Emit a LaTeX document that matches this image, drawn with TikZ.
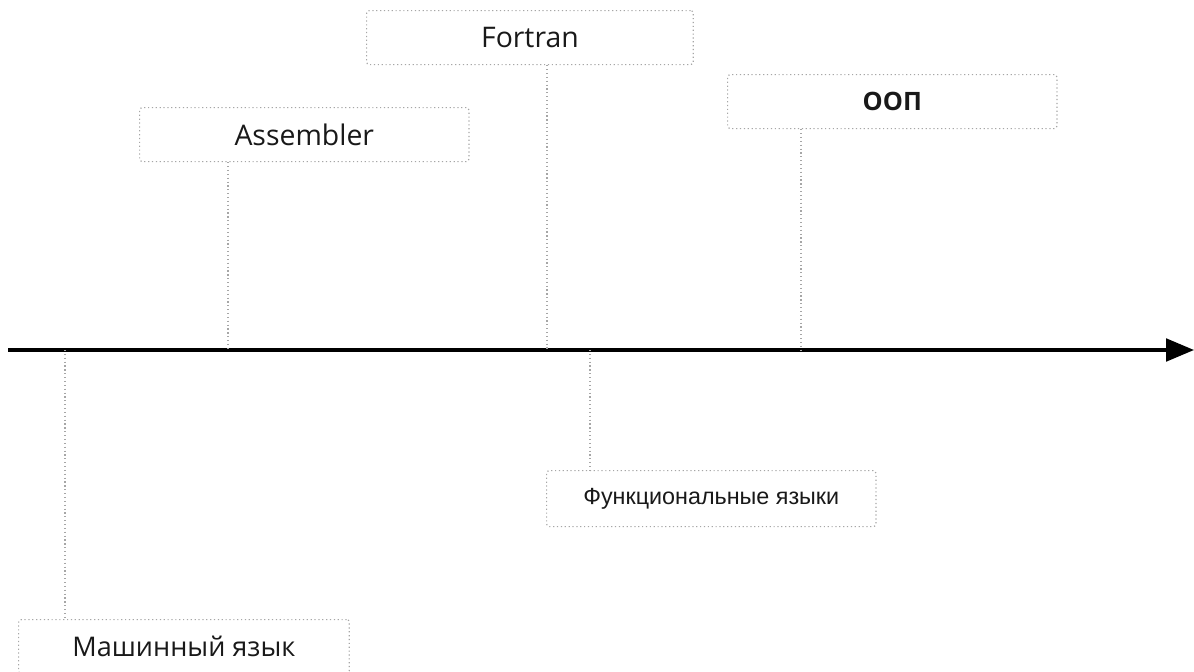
\documentclass[tikz,border=0pt]{standalone}
\usepackage{fontspec}
\setmainfont{Open Sans}
\newfontfamily\arialf{Liberation Sans}
\usetikzlibrary{arrows.meta}
\begin{document}
\begin{tikzpicture}[x=0.75pt,y=-0.75pt,
  era/.style={draw=black!35, dotted, line width=0.9pt, rounded corners=2pt, minimum height=40.5pt, inner sep=0pt, anchor=north west, text=black!90},
  big/.style={font=\fontsize{21.3}{25}\selectfont},
  tick/.style={draw=black!35, dotted, line width=0.9pt},
  axisline/.style={line width=2.4pt, -{Triangle[length=21pt,width=17pt]}}]
\useasboundingbox (0,0) rectangle (1194,671);
\node[era, big, minimum width=245pt] (fortran) at (366,10) {Fortran};
\node[era, big, minimum width=247pt] (asm) at (139,107) {Assembler};
\node[era, minimum width=247pt, font=\fontsize{19}{22}\selectfont\bfseries] (oop) at (727,74) {ООП};
\node[era, minimum width=247pt, minimum height=42pt, font=\arialf\fontsize{17.5}{20}\selectfont] (func) at (546,470) {Функциональные языки};
\node[era, minimum width=248pt, font=\fontsize{20.3}{24}\selectfont] (mach) at (18,619) {Машинный язык};
\coordinate (start) at (8,350);
\coordinate (end) at (1194,350);
\draw[axisline] (start) -- (end);
\coordinate (tA) at (228,350);
\coordinate (tF) at (547,350);
\coordinate (tO) at (801,350);
\coordinate (tFu) at (590,350);
\coordinate (tM) at (65,350);
\draw[tick] (asm.south west -| tA) -- (tA);
\draw[tick] (fortran.south west -| tF) -- (tF);
\draw[tick] (oop.south west -| tO) -- (tO);
\draw[tick] (tFu) -- (func.north west -| tFu);
\draw[tick] (tM) -- (mach.north west -| tM);
\end{tikzpicture}
\end{document}
